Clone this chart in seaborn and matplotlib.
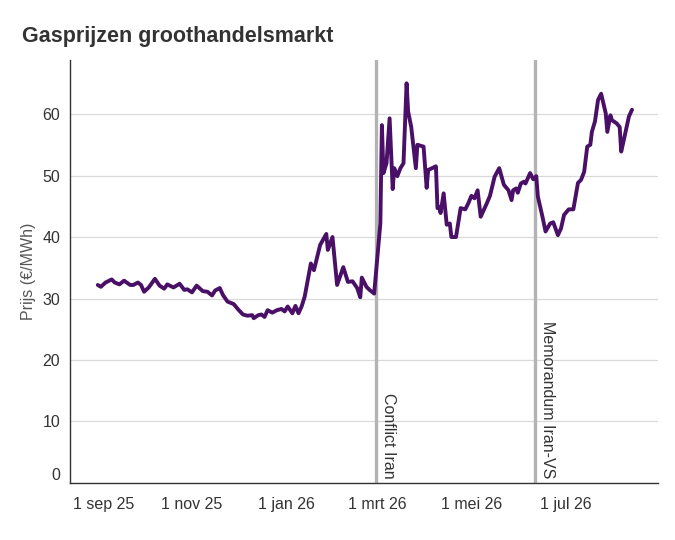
import matplotlib
matplotlib.use("Agg")
import matplotlib.dates as mdates
import matplotlib.transforms as mtransforms
import pandas as pd
import seaborn as sns
from matplotlib import pyplot as plt

dates = [
    "2025-09-01", "2025-09-03", "2025-09-06", "2025-09-10", "2025-09-12", "2025-09-15",
    "2025-09-18", "2025-09-22", "2025-09-24", "2025-09-27", "2025-09-29", "2025-10-01",
    "2025-10-04", "2025-10-08", "2025-10-11", "2025-10-14", "2025-10-16", "2025-10-20",
    "2025-10-24", "2025-10-27", "2025-10-29", "2025-11-01", "2025-11-04", "2025-11-08",
    "2025-11-11", "2025-11-14", "2025-11-16", "2025-11-19", "2025-11-21", "2025-11-24",
    "2025-11-28", "2025-12-01", "2025-12-04", "2025-12-07", "2025-12-10", "2025-12-11",
    "2025-12-14", "2025-12-16", "2025-12-18", "2025-12-20", "2025-12-23", "2025-12-26",
    "2025-12-29", "2025-12-31", "2026-01-02", "2026-01-05", "2026-01-07", "2026-01-09",
    "2026-01-11", "2026-01-13", "2026-01-15", "2026-01-17", "2026-01-19", "2026-01-23",
    "2026-01-27", "2026-01-28", "2026-01-31", "2026-02-03", "2026-02-07", "2026-02-10",
    "2026-02-13", "2026-02-16", "2026-02-18", "2026-02-19", "2026-02-22", "2026-02-24",
    "2026-02-27", "2026-03-03", "2026-03-04", "2026-03-05", "2026-03-07", "2026-03-09",
    "2026-03-11", "2026-03-12", "2026-03-14", "2026-03-16", "2026-03-18", "2026-03-20",
    "2026-03-21", "2026-03-23", "2026-03-26", "2026-03-27", "2026-03-31", "2026-04-02",
    "2026-04-03", "2026-04-08", "2026-04-09", "2026-04-10", "2026-04-11", "2026-04-13",
    "2026-04-15", "2026-04-17", "2026-04-18", "2026-04-21", "2026-04-24", "2026-04-27",
    "2026-04-29", "2026-05-01", "2026-05-03", "2026-05-05", "2026-05-07", "2026-05-11",
    "2026-05-13", "2026-05-16", "2026-05-19", "2026-05-22", "2026-05-25", "2026-05-27",
    "2026-05-28", "2026-05-30", "2026-05-31", "2026-06-02", "2026-06-04", "2026-06-05",
    "2026-06-08", "2026-06-10", "2026-06-12", "2026-06-13", "2026-06-16", "2026-06-18",
    "2026-06-21", "2026-06-23", "2026-06-26", "2026-06-28", "2026-06-30", "2026-07-03",
    "2026-07-06", "2026-07-09", "2026-07-11", "2026-07-13", "2026-07-15", "2026-07-17",
    "2026-07-18", "2026-07-20", "2026-07-22", "2026-07-24", "2026-07-27", "2026-07-28",
    "2026-07-30", "2026-07-31", "2026-08-03", "2026-08-05", "2026-08-06", "2026-08-07",
    "2026-08-10", "2026-08-11", "2026-08-13",
]
prijs = [
    32.2, 31.9, 32.6, 33.1, 32.6, 32.3,
    32.9, 32.2, 32.2, 32.6, 32.2, 31.1,
    31.8, 33.2, 32.1, 31.6, 32.3, 31.8,
    32.4, 31.4, 31.5, 31.0, 32.1, 31.2,
    31.1, 30.5, 31.3, 31.7, 30.6, 29.5,
    29.1, 28.2, 27.4, 27.2, 27.3, 26.8,
    27.3, 27.4, 27.0, 28.1, 27.7, 28.1,
    28.3, 27.9, 28.7, 27.6, 28.8, 27.6,
    28.7, 30.3, 33.0, 35.7, 34.6, 38.7,
    40.5, 37.9, 40.0, 32.2, 35.1, 32.7,
    32.8, 31.7, 30.2, 33.4, 31.9, 31.4,
    30.8, 42.2, 58.2, 50.4, 52.0, 59.3,
    47.8, 51.2, 49.9, 51.2, 52.0, 65.0,
    60.4, 57.9, 51.2, 55.0, 54.7, 48.0,
    50.9, 51.5, 44.7, 44.9, 43.9, 47.1,
    42.0, 42.2, 40.0, 40.0, 44.7, 44.5,
    45.5, 46.7, 46.3, 47.6, 43.3, 45.5,
    46.7, 49.8, 51.2, 48.5, 47.6, 46.0,
    47.6, 47.9, 47.2, 48.7, 49.0, 48.7,
    50.4, 49.4, 49.9, 46.6, 43.3, 40.9,
    42.2, 42.4, 40.3, 41.4, 43.6, 44.5,
    44.5, 48.8, 49.3, 50.6, 54.7, 55.0,
    57.1, 58.8, 62.3, 63.3, 60.1, 57.1,
    59.8, 59.0, 58.5, 57.9, 53.9, 55.0,
    58.5, 59.6, 60.7,
]

event_dates = ["2026-02-28", "2026-06-11"]
event_labels = ["Conflict Iran", "Memorandum Iran-VS"]

month_nl = ["jan", "feb", "mrt", "apr", "mei", "jun", "jul", "aug", "sep", "okt", "nov", "dec"]

df = pd.DataFrame({"datum": pd.to_datetime(dates), "prijs": prijs})

sns.set_style("white")
plt.rcParams["font.family"] = ["Liberation Sans", "DejaVu Sans"]

fig = plt.figure(figsize=(6.75, 5.4), dpi=100)
ax = fig.add_axes([0.1037, 0.1056, 0.8715, 0.7834])

for d in event_dates:
    ax.axvline(pd.Timestamp(d), color="#b3b3b3", linewidth=2.4, zorder=2)

sns.lineplot(data=df, x="datum", y="prijs", color="#4a1067", linewidth=2.8, ax=ax, zorder=3)

text_off = mtransforms.offset_copy(ax.get_xaxis_transform(), fig=fig, x=4, y=0, units="points")
for d, lab in zip(event_dates, event_labels):
    ax.text(pd.Timestamp(d), 0.01, lab, transform=text_off, rotation=270,
            ha="left", va="bottom", fontsize=11.5, color="#333333", zorder=4)

ax.set_xlim(pd.Timestamp("2025-08-14"), pd.Timestamp("2026-08-30"))
ax.set_ylim(0, 68.8)
ax.set_yticks([0, 10, 20, 30, 40, 50, 60])
ax.yaxis.grid(True, color="#d9d9d9", linewidth=0.9)
ax.xaxis.grid(False)

ax.xaxis.set_major_locator(mdates.MonthLocator(bymonth=[1, 3, 5, 7, 9, 11]))
ax.xaxis.set_minor_locator(mdates.MonthLocator())
ax.xaxis.set_major_formatter(
    plt.FuncFormatter(lambda v, _: (lambda t: f"1 {month_nl[t.month - 1]} {t.year % 100:02d}")(mdates.num2date(v)))
)

ax.tick_params(axis="x", which="both", length=5, color="#e3e3e3", width=1,
               labelsize=11.5, labelcolor="#333333", pad=5)
ax.tick_params(axis="y", length=5, color="#e3e3e3", width=1,
               labelsize=11.5, labelcolor="#333333", pad=2)
for lab in ax.get_yticklabels():
    if lab.get_text() == "0":
        lab.set_va("bottom")

# first date label sits a little right of its tick, as in the original
fig.canvas.draw()
first = ax.get_xticklabels()[0]
first.set_transform(first.get_transform() + mtransforms.ScaledTranslation(4 / 72, 0, fig.dpi_scale_trans))

for side in ["top", "right"]:
    ax.spines[side].set_visible(False)
for side in ["left", "bottom"]:
    ax.spines[side].set_color("#333333")
    ax.spines[side].set_linewidth(1.0)

ax.set_xlabel("")
ax.set_ylabel("Prijs (€/MWh)", fontsize=11.5, color="#555555")
ax.yaxis.set_label_coords(-0.058, 0.5)

fig.text(0.0326, 0.932, "Gasprijzen groothandelsmarkt", fontsize=15.5, fontweight="bold",
         color="#333333", ha="left", va="center")

fig.savefig("out.png", dpi=100)
